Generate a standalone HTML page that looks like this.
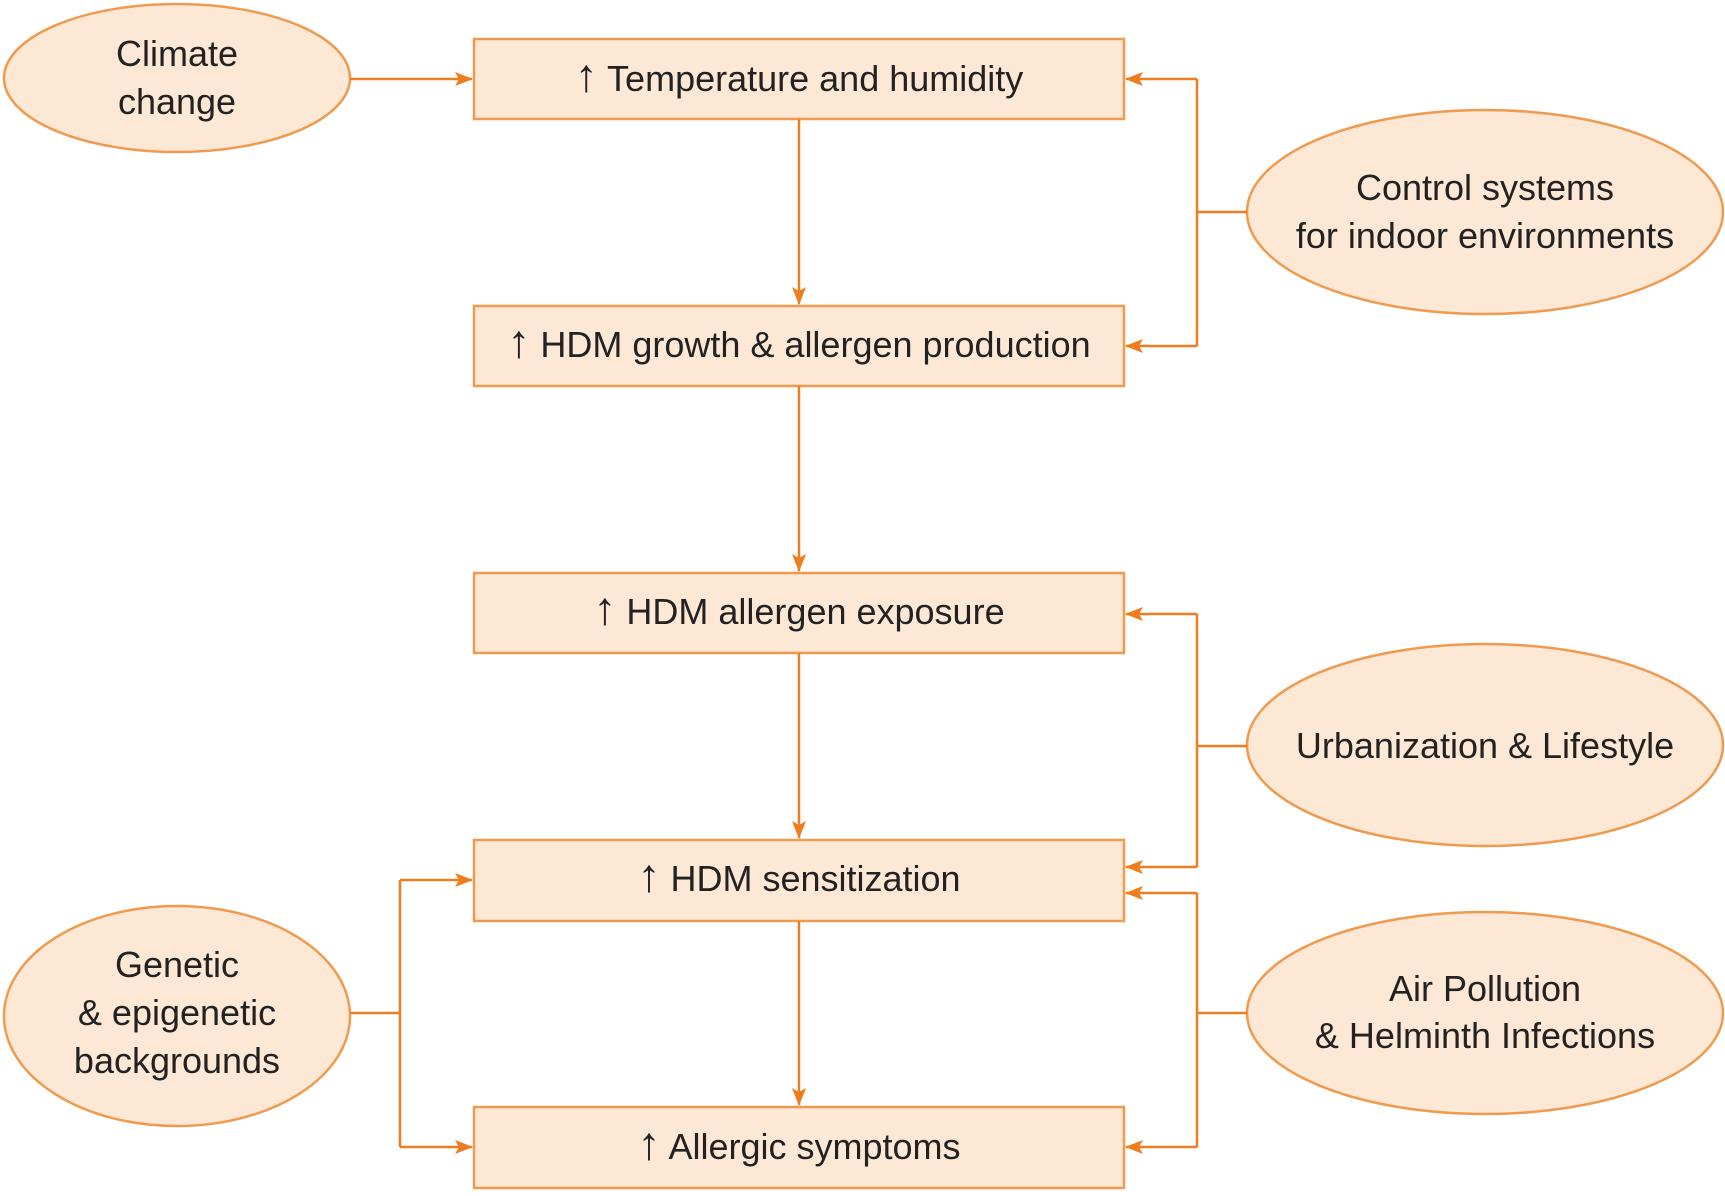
<!DOCTYPE html>
<html><head><style>body{margin:0;background:#fff}</style></head><body>
<svg width="1725" height="1191" viewBox="0 0 1725 1191" xmlns="http://www.w3.org/2000/svg" font-family="Liberation Sans, sans-serif" font-size="36" fill="#222">
<defs>
<marker id="b" markerWidth="18" markerHeight="14" refX="17" refY="7" orient="auto" markerUnits="userSpaceOnUse"><path d="M0,0 L18,7 L0,14 L4,7 Z" fill="#ef7d1f"/></marker></defs>
<g stroke="#ef9a4e" stroke-width="2.5" fill="#fde8d6">
<ellipse cx="177" cy="78" rx="173" ry="74"/>
<ellipse cx="1485" cy="212" rx="238" ry="102"/>
<ellipse cx="1485" cy="745" rx="238" ry="101"/>
<ellipse cx="1485" cy="1013" rx="238" ry="101"/>
<ellipse cx="177" cy="1016" rx="173" ry="110"/>
<rect x="474" y="39" width="650" height="80"/>
<rect x="474" y="306" width="650" height="80"/>
<rect x="474" y="573" width="650" height="80"/>
<rect x="474" y="840" width="650" height="81"/>
<rect x="474" y="1107" width="650" height="81"/>
</g>
<g stroke="#ef7d1f" stroke-width="2.5" fill="none">
<path d="M350 79 H472" marker-end="url(#b)"/>
<path d="M799 119 V304" marker-end="url(#b)"/>
<path d="M799 386 V571" marker-end="url(#b)"/>
<path d="M799 653 V838" marker-end="url(#b)"/>
<path d="M799 921 V1105" marker-end="url(#b)"/>
<path d="M1247 212 H1197 M1197 79 V346"/>
<path d="M1197 79 H1126" marker-end="url(#b)"/>
<path d="M1197 346 H1126" marker-end="url(#b)"/>
<path d="M1247 746 H1197 M1197 614 V867"/>
<path d="M1197 614 H1126" marker-end="url(#b)"/>
<path d="M1197 867 H1126" marker-end="url(#b)"/>
<path d="M1247 1013 H1197 M1197 893 V1147"/>
<path d="M1197 893 H1126" marker-end="url(#b)"/>
<path d="M1197 1147 H1126" marker-end="url(#b)"/>
<path d="M350 1013 H400 M400 880 V1147"/>
<path d="M400 880 H472" marker-end="url(#b)"/>
<path d="M400 1147 H472" marker-end="url(#b)"/>
</g>
<g text-anchor="middle">
<text x="177" y="66">Climate</text><text x="177" y="114">change</text>
<text x="799" y="91"><tspan font-size="46">↑</tspan> Temperature and humidity</text>
<text x="799" y="357"><tspan font-size="46">↑</tspan> HDM growth &amp; allergen production</text>
<text x="799" y="624"><tspan font-size="46">↑</tspan> HDM allergen exposure</text>
<text x="799" y="891"><tspan font-size="46">↑</tspan> HDM sensitization</text>
<text x="799" y="1159"><tspan font-size="46">↑</tspan> Allergic symptoms</text>
<text x="1485" y="200">Control systems</text><text x="1485" y="248">for indoor environments</text>
<text x="1485" y="758">Urbanization &amp; Lifestyle</text>
<text x="1485" y="1001">Air Pollution</text><text x="1485" y="1048">&amp; Helminth Infections</text>
<text x="177" y="977">Genetic</text><text x="177" y="1025">&amp; epigenetic</text><text x="177" y="1073">backgrounds</text>
</g>
</svg>
</body></html>
